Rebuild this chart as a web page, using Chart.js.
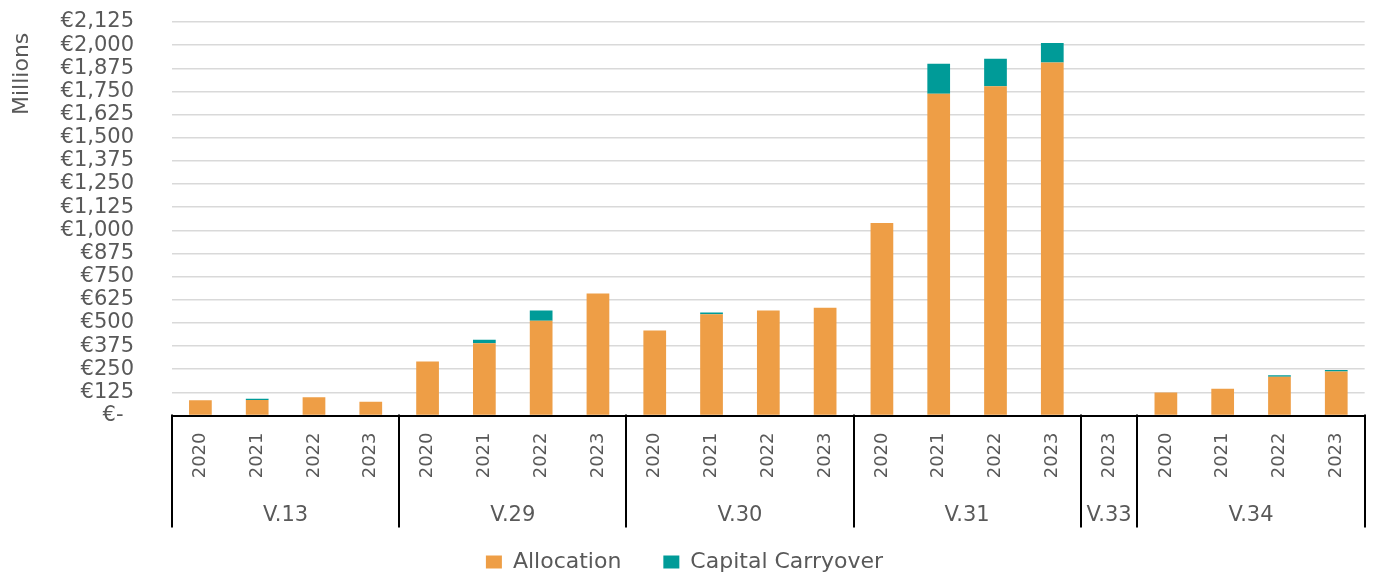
<!DOCTYPE html>
<html>
<head>
<meta charset="utf-8">
<script src="https://cdn.jsdelivr.net/npm/chart.js@4/dist/chart.umd.min.js"></script>
<style>
  html, body { margin: 0; padding: 0; background: #ffffff; }
  #wrap { width: 1375px; height: 574px; }
</style>
</head>
<body>
<div id="wrap"><canvas id="chart" width="1375" height="574"></canvas></div>
<script>
// Year of each bar, grouped by programme line
const years = [
  '2020', '2021', '2022', '2023',
  '2020', '2021', '2022', '2023',
  '2020', '2021', '2022', '2023',
  '2020', '2021', '2022', '2023',
  '2023',
  '2020', '2021', '2022', '2023'
];
// Programme lines and how many years each one spans
const groupLabels = ['V.13', 'V.29', 'V.30', 'V.31', 'V.33', 'V.34'];
const groupSizes = [4, 4, 4, 4, 1, 4];

// € millions
const allocation = [83, 84, 98, 74, 291, 390, 511, 659, 459, 547, 567, 582, 1039, 1738, 1778, 1906, 0, 124, 145, 209, 238];
const carryover = [0, 6, 0, 0, 0, 19, 56, 0, 0, 9, 0, 0, 0, 161, 149, 106, 0, 0, 0, 9, 8];

// Value axis
const yMax = 2125;
const yStep = 125;

const TEXT = '#595959';
const FONT = 'DejaVu Sans';

Chart.defaults.font.family = FONT;
Chart.defaults.color = TEXT;

// Draws the second category tier (programme lines), its separators and the unit title
const groupAxis = {
  id: 'groupAxis',
  afterDraw(chart) {
    const { ctx, chartArea, scales: { x } } = chart;
    const half = (x.getPixelForValue(1) - x.getPixelForValue(0)) / 2;
    const axisY = chartArea.bottom;
    const edges = [x.getPixelForValue(0) - half];
    let idx = 0;
    groupSizes.forEach(n => {
      idx += n;
      edges.push(x.getPixelForValue(idx - 1) + half);
    });

    ctx.save();
    ctx.strokeStyle = '#000000';
    ctx.lineWidth = 2;
    ctx.beginPath();
    edges.forEach(e => {
      const px = Math.round(e);
      ctx.moveTo(px, axisY - 1);
      ctx.lineTo(px, axisY + 112);
    });
    ctx.stroke();

    ctx.fillStyle = TEXT;
    ctx.font = '21px "' + FONT + '"';
    ctx.textAlign = 'center';
    ctx.textBaseline = 'middle';
    groupLabels.forEach((g, i) => {
      ctx.fillText(g, (edges[i] + edges[i + 1]) / 2, axisY + 100);
    });

    ctx.translate(22, 115);
    ctx.rotate(-Math.PI / 2);
    ctx.font = '22px "' + FONT + '"';
    ctx.textAlign = 'left';
    ctx.textBaseline = 'middle';
    ctx.fillText('Millions', 0, 0);
    ctx.restore();
  }
};

const LEGEND_PAD = 42;
const LEGEND_FONT = 22;
const LEGEND_H = 12 + LEGEND_PAD + LEGEND_FONT / 2;

new Chart(document.getElementById('chart'), {
  type: 'bar',
  data: {
    labels: years,
    datasets: [
      {
        label: 'Allocation',
        data: allocation,
        backgroundColor: '#EE9E46',
        borderWidth: 0,
        barPercentage: 0.4,
        categoryPercentage: 1.0
      },
      {
        label: 'Capital Carryover',
        data: carryover,
        backgroundColor: '#009B98',
        borderWidth: 0,
        barPercentage: 0.4,
        categoryPercentage: 1.0
      }
    ]
  },
  options: {
    responsive: false,
    animation: false,
    devicePixelRatio: 1,
    layout: { padding: { top: 22, right: 6, left: 0, bottom: 0 } },
    plugins: {
      tooltip: { enabled: false },
      legend: {
        position: 'bottom',
        maxHeight: LEGEND_H,
        labels: {
          boxWidth: 16,
          boxHeight: 13,
          padding: LEGEND_PAD,
          color: TEXT,
          font: { family: FONT, size: LEGEND_FONT }
        }
      }
    },
    scales: {
      x: {
        stacked: true,
        grid: { display: false, drawTicks: false },
        border: { display: true, color: '#000000', width: 2 },
        ticks: {
          autoSkip: false,
          minRotation: 90,
          maxRotation: 90,
          padding: 17,
          color: TEXT,
          font: { family: FONT, size: 18 }
        },
        afterFit(scale) { scale.height = 574 - 415.5 - LEGEND_H; }
      },
      y: {
        stacked: true,
        min: 0,
        max: yMax,
        grid: { color: '#d9d9d9', lineWidth: 1.5, drawTicks: false },
        border: { display: false },
        ticks: {
          stepSize: yStep,
          autoSkip: false,
          padding: 38,
          color: TEXT,
          font: { family: FONT, size: 21 },
          callback: v => v === 0 ? '€-\u2002' : '€' + v.toLocaleString('en-US')
        },
        afterFit(scale) {
          scale.width = 172;
          scale.paddingTop = 0;
          scale.paddingBottom = 0;
        }
      }
    }
  },
  plugins: [groupAxis]
});
</script>
</body>
</html>
